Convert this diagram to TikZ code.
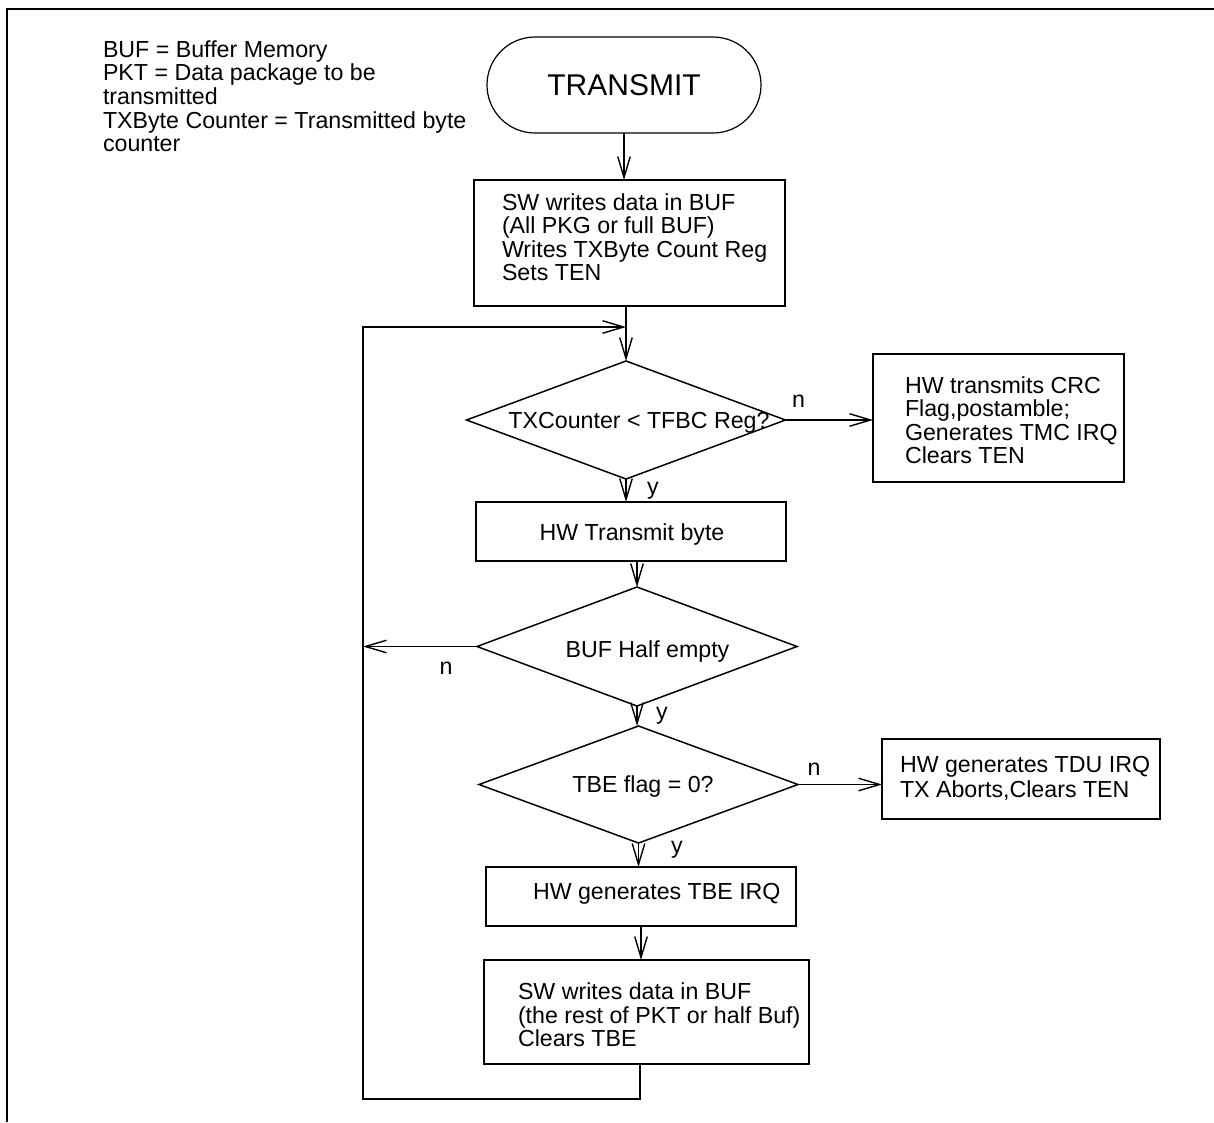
\documentclass[tikz,border=0pt]{standalone}
\usepackage{fontspec}
\setmainfont{Liberation Sans}
\usetikzlibrary{shapes.geometric,shapes.misc,arrows.meta,calc}
\begin{document}
\begin{tikzpicture}[x=1pt,y=-1pt,
  every node/.style={inner sep=0pt, outer sep=0pt},
  txt/.style={font=\fontsize{23.2}{23.5}\selectfont, align=left},
  boxnode/.style={draw, rectangle, line width=2pt},
  decision/.style={draw, diamond, line width=1.5pt},
  arr/.style={line width=1.7pt, -{Straight Barb[length=21pt,width=12.5pt,line width=1.4pt]}},
  lbl/.style={font=\fontsize{23.2}{23.5}\selectfont, anchor=base}]
\useasboundingbox (0,0) rectangle (1214,1122);
% outer frame
\draw[line width=2.6pt] (7,1122) -- (7,9) -- (1214,9);
% legend
\node[txt, anchor=north west, font=\fontsize{23.2}{23.7}\selectfont] (legend) at (103,40.4)
  {BUF = Buffer Memory\\PKT = Data package to be\\transmitted\\TXByte Counter = Transmitted byte\\counter};
% start
\node[draw, rounded rectangle, line width=1.2pt, minimum width=274pt, minimum height=96pt,
  font=\fontsize{30}{36}\selectfont] (start) at (624,85) {TRANSMIT};
% box 1
\node[boxnode, minimum width=311pt, minimum height=126pt] (b1) at (629.5,243) {};
\node[txt, anchor=north west] (b1t) at ($(b1.north west)+(28,13.4)$)
  {SW writes data in BUF\\(All PKG or full BUF)\\Writes TXByte Count Reg\\Sets TEN};
% decision 1
\node[decision, minimum width=319pt, minimum height=118pt] (d1) at (626,420) {};
\node[lbl] (d1t) at ($(d1.center)+(13,8)$) {TXCounter < TFBC Reg?};
% box 2
\node[boxnode, minimum width=251pt, minimum height=128pt] (b2) at (998.5,418) {};
\node[txt, anchor=north west] (b2t) at ($(b2.north west)+(32,22.4)$)
  {HW transmits CRC\\Flag,postamble;\\Generates TMC IRQ\\Clears TEN};
% box 3
\node[boxnode, minimum width=310pt, minimum height=59pt] (b3) at (631,531.5) {};
\node[lbl] (b3t) at ($(b3.center)+(1,8.5)$) {HW Transmit byte};
% decision 2
\node[decision, minimum width=320pt, minimum height=119pt] (d2) at (637,646.5) {};
\node[lbl] (d2t) at ($(d2.center)+(10.5,10.5)$) {BUF Half empty};
% decision 3
\node[decision, minimum width=319pt, minimum height=117pt] (d3) at (638.5,784.5) {};
\node[lbl] (d3t) at ($(d3.center)+(4.5,7.5)$) {TBE flag = 0?};
% box 4
\node[boxnode, minimum width=278pt, minimum height=80pt] (b4) at (1021,779) {};
\node[txt, anchor=north west, font=\fontsize{23.2}{25}\selectfont] (b4t) at ($(b4.north west)+(18,16.8)$)
  {HW generates TDU IRQ\\TX Aborts,Clears TEN};
% box 5
\node[boxnode, minimum width=310pt, minimum height=59pt] (b5) at (641,896.5) {};
\node[lbl, anchor=base west] (b5t) at ($(b5.west)+(47,2.5)$) {HW generates TBE IRQ};
% box 6
\node[boxnode, minimum width=325pt, minimum height=104pt] (b6) at (646.5,1012) {};
\node[txt, anchor=north west] (b6t) at ($(b6.north west)+(34,22.8)$)
  {SW writes data in BUF\\(the rest of PKT or half Buf)\\Clears TBE};
% branch labels
\node[lbl] (n1) at ($(d1.east)+(13,-13)$) {n};
\node[lbl] (y1) at ($(d1.south)+(27,15)$) {y};
\node[lbl] (n2) at ($(d2.west)+(-31,27.5)$) {n};
\node[lbl] (y2) at ($(d2.south)+(25,13)$) {y};
\node[lbl] (n3) at ($(d3.east)+(16,-9.5)$) {n};
\node[lbl] (y3) at ($(d3.south)+(38.5,10)$) {y};
% loop coordinates
\coordinate (lpB) at (363,1099);
\coordinate (lpC) at (363,327);
\coordinate (join) at (d1.north |- lpC);
% connectors
\draw[arr] (start.south) -- (start.south |- b1.north);
\draw[arr] (d1.north |- b1.south) -- (d1.north);
\draw[arr] ([xshift=-6.5pt]b6.south) |- (lpB) -- (lpC) -- (join);
\draw[arr] (d1.east) -- (d1.east -| b2.west);
\draw[arr] (d1.south) -- (d1.south |- b3.north);
\draw[arr] (b3.south -| d2.north) -- (d2.north);
\draw[arr] (d2.west) -- (d2.west -| lpC);
\draw[arr] (d2.south) -- (d2.south |- d3.north);
\draw[arr] (d3.east) -- (d3.east -| b4.west);
\draw[arr] (d3.south) -- (d3.south |- b5.north);
\draw[arr] (b5.south) -- (b5.south |- b6.north);
\end{tikzpicture}
\end{document}
